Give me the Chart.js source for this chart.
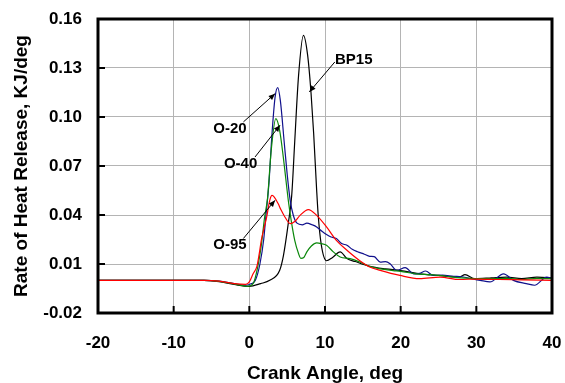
<!DOCTYPE html>
<html>
<head>
<meta charset="utf-8">
<script src="https://cdn.jsdelivr.net/npm/chart.js@4.4.0/dist/chart.umd.min.js"></script>
<style>
  body { margin:0; background:#fff; }
  #c { display:block; }
</style>
</head>
<body>
<canvas id="c" width="565" height="383"></canvas>
<script>
// values: crank angle (deg) and heat release rate (KJ/deg)

const xTicks = [-20, -10, 0, 10, 20, 30, 40];
const yTicks = [-0.02, 0.01, 0.04, 0.07, 0.10, 0.13, 0.16];

const bp15Angle = [-20, -10, -6, -4, -2, 0, 1.5, 2.7, 4.0, 4.5, 5.15, 5.6, 6.0, 6.5, 7.15, 7.7, 8.15, 8.5, 8.9, 9.1, 9.5, 10.2, 11.0, 12.0, 12.9, 14.0, 15.9, 18, 20, 22.5, 25, 27.8, 28.5, 29.8, 32, 34, 36, 38, 40];
const bp15Rate = [0, 0, 0, -0.0008, -0.0025, -0.0037, -0.002, 0, 0.006, 0.015, 0.035, 0.052, 0.085, 0.125, 0.150, 0.138, 0.115, 0.09, 0.055, 0.04, 0.022, 0.012, 0.014, 0.0174, 0.0133, 0.0115, 0.0086, 0.007, 0.006, 0.004, 0.003, 0.002, 0.0035, 0.001, 0.0015, 0.002, 0.001, 0.002, 0.0015];

const o20Angle = [-20, -10, -6, -4, -2, -0.5, 0.3, 0.8, 1.4, 1.9, 2.2, 2.6, 3.0, 3.4, 3.75, 4.1, 4.6, 5.0, 5.4, 5.8, 6.3, 7.0, 7.6, 8.3, 8.9, 9.6, 10.2, 10.8, 11.5, 12.2, 12.9, 13.6, 14.3, 15.2, 15.9, 16.5, 17.3, 18.0, 18.6, 19.5, 20.6, 21.7, 22.5, 23.3, 24.3, 25.5, 27, 28, 30.5, 31.8, 33.6, 34.9, 36.6, 37.7, 39.3, 40];
const o20Rate = [0, 0, 0, -0.0005, -0.002, -0.003, -0.002, 0, 0.01, 0.025, 0.04, 0.06, 0.09, 0.112, 0.118, 0.11, 0.085, 0.065, 0.049, 0.04, 0.035, 0.034, 0.035, 0.034, 0.0327, 0.030, 0.028, 0.0265, 0.0256, 0.0225, 0.0215, 0.019, 0.0175, 0.016, 0.0147, 0.0145, 0.0112, 0.0115, 0.0102, 0.0061, 0.0078, 0.004, 0.0043, 0.0057, 0.003, 0.0032, 0.0025, 0.0022, 0, -0.001, 0.004, 0, -0.002, -0.003, 0.002, 0.001];

const o40Angle = [-20, -10, -6, -4, -2, -0.3, 0.5, 1.1, 1.6, 2.0, 2.4, 2.9, 3.5, 4.0, 4.5, 5.15, 5.6, 6.0, 6.5, 6.8, 7.2, 7.6, 8.2, 8.9, 9.5, 10.2, 11.1, 12.0, 13.3, 14.6, 15.9, 17.3, 19, 20, 22, 24, 26, 28, 30, 32, 34, 36, 38, 40];
const o40Rate = [0, 0, 0, -0.0006, -0.0022, -0.0037, -0.002, 0.008, 0.022, 0.038, 0.05, 0.08, 0.099, 0.092, 0.075, 0.049, 0.0347, 0.0245, 0.0164, 0.0135, 0.014, 0.0174, 0.021, 0.0229, 0.0225, 0.0215, 0.0174, 0.0143, 0.0133, 0.0112, 0.0086, 0.007, 0.006, 0.0055, 0.004, 0.0035, 0.0025, 0.0015, 0.001, 0.001, 0.0012, 0.0005, 0.0012, 0.001];

const o95Angle = [-20, -10, -6, -4, -2, -0.5, 0, 0.5, 1.0, 1.3, 1.6, 2.0, 2.3, 2.7, 3.0, 3.3, 3.8, 4.2, 4.7, 5.4, 6.0, 6.7, 7.8, 8.9, 10.2, 11.5, 12.9, 14.6, 15.9, 17.3, 19.9, 22.5, 25.2, 27.8, 30, 33, 36, 40];
const o95Rate = [0, 0, 0, -0.0005, -0.002, -0.0025, -0.001, 0.004, 0.0085, 0.016, 0.025, 0.033, 0.039, 0.049, 0.052, 0.051, 0.047, 0.043, 0.0388, 0.0347, 0.036, 0.0398, 0.0433, 0.0398, 0.0327, 0.0245, 0.0184, 0.012, 0.0082, 0.0061, 0.003, 0.001, 0.002, 0.0005, 0.0008, 0.0005, 0.0003, 0];

// callouts: label position and arrow from -> to, all in data units
const calloutText = ["BP15", "O-20", "O-40", "O-95"];
const calloutLabel = [[13.8, 0.1347], [-2.55, 0.0925], [-1.16, 0.0711], [-2.55, 0.0215]];
const calloutFrom = [[11.3, 0.1337], [-0.78, 0.097], [0.75, 0.0755], [-0.79, 0.0256]];
const calloutTo = [[7.93, 0.1153], [3.4, 0.1143], [4.06, 0.095], [3.4, 0.049]];

const toPoints = (xs, ys) => xs.map((x, i) => ({x, y: ys[i]}));

// first dataset ends up on top, so red goes first
const series = [
    {label: "O-95", data: toPoints(o95Angle, o95Rate), color: "#ff0000"},
    {label: "O-40", data: toPoints(o40Angle, o40Rate), color: "#0a870a"},
    {label: "O-20", data: toPoints(o20Angle, o20Rate), color: "#10108c"},
    {label: "BP15", data: toPoints(bp15Angle, bp15Rate), color: "#000000"}
];

const FONT = "'Liberation Sans', Arial, sans-serif";

// frame, inward tick marks and the arrow callouts
const decorations = {
    id: "decorations",
    afterDatasetsDraw(chart) {
        const {ctx, chartArea: a, scales: {x, y}} = chart;
        ctx.save();
        ctx.strokeStyle = "#000";
        ctx.lineWidth = 2;
        xTicks.forEach(v => {
            const px = x.getPixelForValue(v);
            ctx.beginPath(); ctx.moveTo(px, a.bottom); ctx.lineTo(px, a.bottom - 7); ctx.stroke();
        });
        yTicks.forEach(v => {
            const py = y.getPixelForValue(v);
            ctx.beginPath(); ctx.moveTo(a.left, py); ctx.lineTo(a.left + 7, py); ctx.stroke();
        });
        ctx.lineWidth = 3;
        ctx.strokeRect(a.left, a.top, a.right - a.left, a.bottom - a.top);

        ctx.lineWidth = 1;
        ctx.fillStyle = "#000";
        calloutText.forEach((t, i) => {
            const x0 = x.getPixelForValue(calloutFrom[i][0]), y0 = y.getPixelForValue(calloutFrom[i][1]);
            const x1 = x.getPixelForValue(calloutTo[i][0]), y1 = y.getPixelForValue(calloutTo[i][1]);
            const ang = Math.atan2(y1 - y0, x1 - x0);
            ctx.beginPath(); ctx.moveTo(x0, y0); ctx.lineTo(x1, y1); ctx.stroke();
            ctx.beginPath();
            ctx.moveTo(x1, y1);
            ctx.lineTo(x1 - 7 * Math.cos(ang - 0.4), y1 - 7 * Math.sin(ang - 0.4));
            ctx.lineTo(x1 - 7 * Math.cos(ang + 0.4), y1 - 7 * Math.sin(ang + 0.4));
            ctx.closePath(); ctx.fill();
            ctx.font = "bold 15px " + FONT;
            ctx.textAlign = "center";
            ctx.textBaseline = "middle";
            ctx.fillText(t, x.getPixelForValue(calloutLabel[i][0]), y.getPixelForValue(calloutLabel[i][1]));
        });
        ctx.restore();
    }
};

// keep tick padding from pushing the plot area inwards
const noEdgePadding = s => { s.paddingLeft = 0; s.paddingRight = 0; s.paddingTop = 0; s.paddingBottom = 0; };

new Chart(document.getElementById("c"), {
    type: "line",
    data: {
        datasets: series.map(s => ({
            label: s.label,
            data: s.data,
            borderColor: s.color,
            borderWidth: 1.2,
            pointRadius: 0,
            fill: false,
            cubicInterpolationMode: "monotone"
        }))
    },
    options: {
        responsive: false,
        animation: false,
        layout: {padding: {top: 19, right: 13, left: 0, bottom: 0}},
        plugins: {legend: {display: false}, tooltip: {enabled: false}},
        scales: {
            x: {
                type: "linear",
                min: -20, max: 40,
                afterBuildTicks: s => { s.ticks = xTicks.map(value => ({value})); },
                afterFit: s => { s.height = 70; noEdgePadding(s); },
                grid: {color: "#b4b4b4", lineWidth: 1, drawTicks: false},
                border: {display: false},
                ticks: {color: "#000", padding: 20, font: {family: FONT, size: 17, weight: "bold"}, callback: v => String(v)},
                title: {display: true, text: "Crank Angle, deg", color: "#000", padding: {top: 0, bottom: -2}, font: {family: FONT, size: 19, weight: "bold"}}
            },
            y: {
                type: "linear",
                min: -0.02, max: 0.16,
                afterBuildTicks: s => { s.ticks = yTicks.map(value => ({value})); },
                afterFit: s => { s.width = 98; noEdgePadding(s); },
                grid: {color: "#b4b4b4", lineWidth: 1, drawTicks: false},
                border: {display: false},
                ticks: {color: "#000", padding: 16, font: {family: FONT, size: 17, weight: "bold"}, callback: v => v.toFixed(2)},
                title: {display: true, text: "Rate of Heat Release, KJ/deg", color: "#000", padding: {top: 10, bottom: 0}, font: {family: FONT, size: 19, weight: "bold"}}
            }
        }
    },
    plugins: [decorations]
});
</script>
</body>
</html>
